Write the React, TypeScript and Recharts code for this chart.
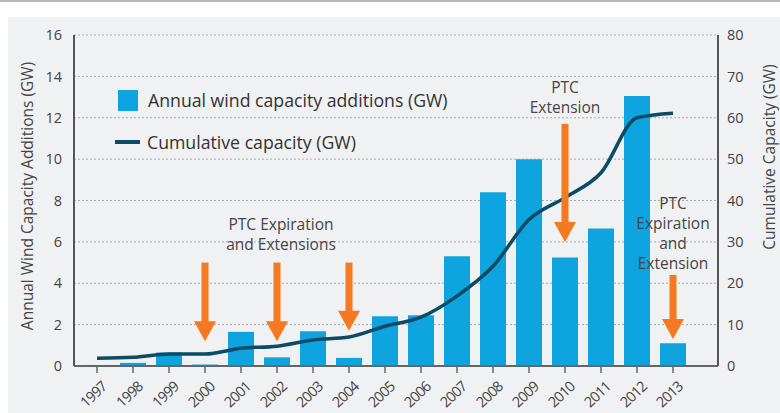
import {
  ComposedChart,
  Bar,
  Line,
  XAxis,
  YAxis,
  CartesianGrid,
  Legend,
  ReferenceLine,
  ReferenceDot,
} from 'recharts';

const years = [
  '1997', '1998', '1999', '2000', '2001', '2002', '2003', '2004', '2005',
  '2006', '2007', '2008', '2009', '2010', '2011', '2012', '2013',
];
// annual additions (GW), left axis
const annualGW = [
  0.05, 0.15, 0.65, 0.07, 1.65, 0.42, 1.68, 0.39, 2.4, 2.45, 5.3, 8.4, 10.0,
  5.25, 6.65, 13.05, 1.1,
];
// cumulative capacity (GW), right axis
const cumulativeGW = [
  1.9, 2.1, 2.9, 2.9, 4.3, 4.8, 6.3, 7.0, 9.6, 11.8, 16.9, 24.1, 35.4, 40.7,
  46.7, 60.0, 61.1,
];
const leftTicks = [0, 2, 4, 6, 8, 10, 12, 14, 16];
const rightTicks = [0, 10, 20, 30, 40, 50, 60, 70, 80];

// PTC arrows, in left-axis units
const arrowYears = ['2000', '2002', '2004', '2010', '2013'];
const arrowTops = [5.0, 5.0, 5.0, 11.7, 4.4];
const arrowTips = [1.2, 1.2, 1.7, 6.0, 1.3];

const noteYears = ['2002', '2010', '2013'];
const noteLevels = [6.85, 13.5, 7.9];
const noteLines = [
  ['PTC Expiration', 'and Extensions'],
  ['PTC', 'Extension'],
  ['PTC', 'Expiration', 'and', 'Extension'],
];

const data = years.map((year, i) => ({
  year,
  annual: annualGW[i],
  cumulative: cumulativeGW[i],
}));

const FONT = '"Open Sans", sans-serif';
const TEXT = '#454545';
const BAR = '#0ea4e0';
const LINE = '#0c4b65';
const ORANGE = '#f47920';

const Arrow = (props: any) => {
  const { x1, y1, y2 } = props;
  const top = Math.min(y1, y2);
  const tip = Math.max(y1, y2);
  const head = 20;
  return (
    <g fill={ORANGE}>
      <rect x={x1 - 3.5} y={top} width={7} height={tip - top - head + 1} />
      <polygon points={`${x1 - 11},${tip - head} ${x1 + 11},${tip - head} ${x1},${tip}`} />
    </g>
  );
};

const noteLabel = (lines: string[], dx: number) => (props: any) => {
  const { viewBox } = props;
  const cx = viewBox.x + viewBox.width / 2 + dx;
  const cy = viewBox.y + viewBox.height / 2;
  return (
    <text x={cx} y={cy} textAnchor="middle" fontFamily={FONT} fontSize={15.5} fill={TEXT}>
      {lines.map((l, i) => (
        <tspan key={i} x={cx} y={cy + i * 20} dominantBaseline="central">
          {l}
        </tspan>
      ))}
    </text>
  );
};

const YearTick = (props: any) => {
  const { x, y, payload } = props;
  const tx = x + 7;
  const ty = y + 9;
  return (
    <text
      x={tx}
      y={ty}
      transform={`rotate(-43, ${tx}, ${ty})`}
      textAnchor="end"
      dominantBaseline="central"
      fontFamily={FONT}
      fontSize={14.5}
      letterSpacing={-0.9}
      fill={TEXT}
    >
      {payload.value}
    </text>
  );
};

const LegendBox = () => (
  <div style={{ fontFamily: FONT, fontSize: 17.7, color: '#333' }}>
    <div style={{ display: 'flex', alignItems: 'center', height: 22 }}>
      <span style={{ width: 20, height: 21, background: BAR, marginLeft: 3, marginRight: 10 }} />
      Annual wind capacity additions (GW)
    </div>
    <div style={{ display: 'flex', alignItems: 'center', height: 22, marginTop: 20 }}>
      <span style={{ width: 25, height: 4, background: LINE, marginRight: 7 }} />
      Cumulative capacity (GW)
    </div>
  </div>
);

const axisTitle = (text: string, x: number, cy: number) => () => (
  <text
    x={x}
    y={cy}
    transform={`rotate(-90, ${x}, ${cy})`}
    textAnchor="middle"
    dominantBaseline="central"
    fontFamily={FONT}
    fontSize={15.5}
    fill={TEXT}
  >
    {text}
  </text>
);

export default function App() {
  return (
    <div style={{ position: 'absolute', left: 0, top: 0, width: 780, height: 413, background: '#fff' }}>
      <div style={{ position: 'absolute', left: 0, top: 0, width: 780, height: 2, background: '#b9b9b9' }} />
      <div style={{ position: 'absolute', left: 8, top: 17, width: 772, height: 396, background: '#eff1f2' }} />
      <ComposedChart
        width={780}
        height={413}
        data={data}
        margin={{ top: 35, right: 22, left: 34, bottom: 7 }}
        style={{ position: 'absolute', left: 0, top: 0 }}
      >
        <CartesianGrid vertical={false} yAxisId="left" stroke="#a9abad" strokeDasharray="2 2" />
        <XAxis
          dataKey="year"
          height={40}
          padding={{ left: 5, right: 27 }}
          tick={<YearTick />}
          tickSize={7}
          interval={0}
          axisLine={{ stroke: '#666', strokeWidth: 2 }}
          tickLine={{ stroke: '#666', strokeWidth: 1.5 }}
        />
        <YAxis
          yAxisId="left"
          width={40}
          domain={[0, 16]}
          ticks={leftTicks}
          tickLine={false}
          tickMargin={6}
          axisLine={{ stroke: '#555', strokeWidth: 2 }}
          tick={{ fontFamily: FONT, fontSize: 14.5, fill: TEXT }}
          label={{ content: axisTitle('Annual Wind Capacity Additions (GW)', 27, 196) }}
        />
        <YAxis
          yAxisId="right"
          orientation="right"
          width={40}
          domain={[0, 80]}
          ticks={rightTicks}
          tickLine={false}
          tickMargin={3}
          axisLine={{ stroke: '#555', strokeWidth: 2 }}
          tick={{ fontFamily: FONT, fontSize: 14.5, fill: TEXT, textAnchor: 'start' }}
          label={{ content: axisTitle('Cumulative Capacity (GW)', 769, 157) }}
        />
        <Legend
          layout="horizontal"
          verticalAlign="middle"
          align="center"
          wrapperStyle={{ position: 'absolute', left: 115, top: 89, width: 360, height: 70 }}
          content={<LegendBox />}
        />
        <Bar yAxisId="left" dataKey="annual" fill={BAR} barSize={26} isAnimationActive={false} />
        <Line
          yAxisId="right"
          type="monotone"
          dataKey="cumulative"
          stroke={LINE}
          strokeWidth={3.5}
          dot={false}
          isAnimationActive={false}
        />
        {arrowYears.map((yr, i) => (
          <ReferenceLine
            key={yr}
            yAxisId="left"
            segment={[
              { x: yr, y: arrowTops[i] },
              { x: yr, y: arrowTips[i] },
            ]}
            shape={<Arrow />}
          />
        ))}
        {noteYears.map((yr, i) => (
          <ReferenceDot
            key={yr}
            yAxisId="left"
            x={yr}
            y={noteLevels[i]}
            r={0}
            fill="none"
            stroke="none"
            label={{ content: noteLabel(noteLines[i], i === 0 ? 4 : 0) }}
          />
        ))}
      </ComposedChart>
    </div>
  );
}
